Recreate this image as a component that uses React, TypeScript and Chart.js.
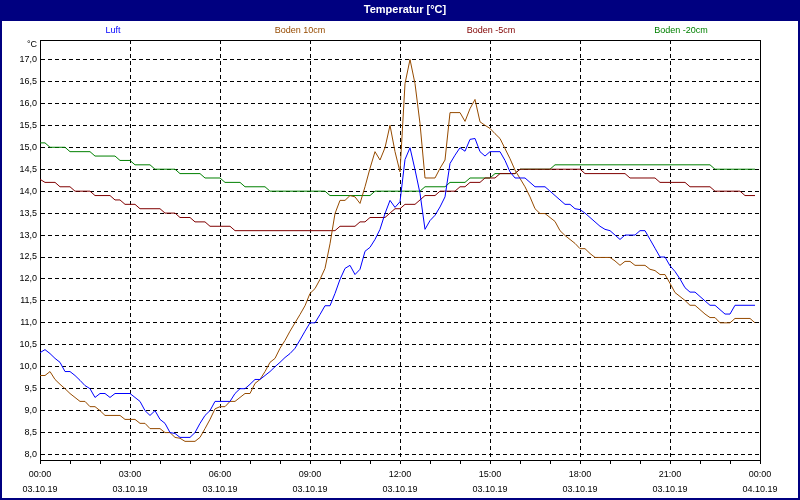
import React, { useEffect, useRef } from "react";
import { Chart, registerables } from "chart.js";

Chart.register(...registerables);

const SAMPLE_MINUTES = 10;

const SERIES_NAMES = ["Luft", "Boden 10cm", "Boden -5cm", "Boden -20cm"];
const SERIES_COLORS = ["#0000ff", "#964b00", "#800000", "#008000"];

const LUFT = [
  10.32, 10.39, 10.3, 10.19, 10.1, 9.89, 9.89, 9.8, 9.69, 9.57, 9.5, 9.3,
  9.39, 9.39, 9.3, 9.39, 9.39, 9.39, 9.39, 9.3, 9.21, 9.0, 8.89, 9.0,
  8.8, 8.71, 8.5, 8.48, 8.39, 8.39, 8.39, 8.5, 8.71, 8.89, 9.0, 9.21,
  9.21, 9.21, 9.21, 9.39, 9.5, 9.5, 9.6, 9.71, 9.71, 9.8, 9.89, 10.0,
  10.1, 10.21, 10.3, 10.42, 10.61, 10.81, 11.0, 11.0, 11.19, 11.39, 11.39, 11.67,
  11.99, 12.24, 12.31, 12.1, 12.22, 12.63, 12.72, 12.9, 13.13, 13.49, 13.79, 13.63,
  13.76, 14.72, 14.99, 14.49, 13.95, 13.13, 13.33, 13.45, 13.64, 13.87, 14.63, 14.82,
  14.99, 14.91, 15.18, 15.2, 14.9, 14.8, 14.9, 14.9, 14.9, 14.7, 14.44, 14.3,
  14.3, 14.3, 14.2, 14.1, 14.1, 14.1, 14.0, 13.9, 13.8, 13.7, 13.7, 13.6,
  13.58, 13.5, 13.4, 13.3, 13.2, 13.13, 13.1, 13.0, 12.9, 13.0, 13.0, 13.0,
  13.1, 13.1, 12.9, 12.7, 12.5, 12.5, 12.3, 12.17, 12.0, 11.8, 11.7, 11.7,
  11.6, 11.5, 11.4, 11.4, 11.3, 11.2, 11.2, 11.4, 11.4, 11.4, 11.4, 11.4,
];

const BODEN_10 = [
  9.8, 9.8, 9.89, 9.71, 9.6, 9.5, 9.39, 9.3, 9.21, 9.21, 9.09, 9.09,
  9.0, 8.89, 8.89, 8.89, 8.89, 8.8, 8.8, 8.8, 8.71, 8.71, 8.59, 8.59,
  8.59, 8.5, 8.5, 8.39, 8.37, 8.3, 8.3, 8.3, 8.39, 8.59, 8.8, 9.04,
  9.09, 9.09, 9.21, 9.21, 9.3, 9.39, 9.39, 9.62, 9.71, 9.89, 10.1, 10.19,
  10.42, 10.6, 10.81, 11.0, 11.19, 11.39, 11.67, 11.78, 11.99, 12.24, 12.8, 13.49,
  13.79, 13.79, 13.9, 13.87, 13.72, 14.1, 14.52, 14.9, 14.71, 14.99, 15.5, 14.9,
  14.44, 16.45, 17.0, 16.45, 15.54, 14.3, 14.3, 14.3, 14.52, 14.71, 15.79, 15.79,
  15.79, 15.59, 15.88, 16.09, 15.58, 15.5, 15.43, 15.31, 15.2, 14.97, 14.74, 14.48,
  14.29, 14.1, 13.87, 13.6, 13.49, 13.49, 13.4, 13.31, 13.1, 12.99, 12.9, 12.81,
  12.69, 12.69, 12.58, 12.49, 12.49, 12.49, 12.49, 12.41, 12.31, 12.4, 12.4, 12.31,
  12.31, 12.31, 12.22, 12.19, 12.1, 12.1, 11.9, 11.69, 11.6, 11.51, 11.4, 11.4,
  11.3, 11.2, 11.12, 11.12, 11.0, 11.0, 11.0, 11.1, 11.1, 11.1, 11.1, 11.0,
];

const BODEN_M5 = [
  14.27, 14.2, 14.2, 14.2, 14.1, 14.1, 14.1, 14.0, 14.0, 14.0, 14.0, 13.9,
  13.9, 13.9, 13.9, 13.8, 13.8, 13.7, 13.7, 13.7, 13.6, 13.6, 13.6, 13.6,
  13.6, 13.5, 13.5, 13.5, 13.4, 13.4, 13.4, 13.3, 13.3, 13.3, 13.2, 13.2,
  13.2, 13.2, 13.2, 13.1, 13.1, 13.1, 13.1, 13.1, 13.1, 13.1, 13.1, 13.1,
  13.1, 13.1, 13.1, 13.1, 13.1, 13.1, 13.1, 13.1, 13.1, 13.1, 13.1, 13.1,
  13.2, 13.2, 13.2, 13.2, 13.3, 13.3, 13.4, 13.4, 13.4, 13.4, 13.5, 13.6,
  13.6, 13.7, 13.7, 13.7, 13.8, 13.9, 13.9, 13.9, 14.0, 14.0, 14.0, 14.0,
  14.1, 14.1, 14.2, 14.2, 14.2, 14.3, 14.3, 14.3, 14.4, 14.4, 14.4, 14.4,
  14.5, 14.5, 14.5, 14.5, 14.5, 14.5, 14.5, 14.5, 14.5, 14.5, 14.5, 14.5,
  14.5, 14.4, 14.4, 14.4, 14.4, 14.4, 14.4, 14.4, 14.4, 14.4, 14.3, 14.3,
  14.3, 14.3, 14.3, 14.3, 14.2, 14.2, 14.2, 14.2, 14.2, 14.2, 14.1, 14.1,
  14.1, 14.1, 14.1, 14.0, 14.0, 14.0, 14.0, 14.0, 14.0, 13.9, 13.9, 13.9,
];

const BODEN_M20 = [
  15.1, 15.1, 15.0, 15.0, 15.0, 15.0, 14.9, 14.9, 14.9, 14.9, 14.9, 14.8,
  14.8, 14.8, 14.8, 14.8, 14.7, 14.7, 14.7, 14.6, 14.6, 14.6, 14.6, 14.5,
  14.5, 14.5, 14.5, 14.5, 14.4, 14.4, 14.4, 14.4, 14.4, 14.3, 14.3, 14.3,
  14.3, 14.2, 14.2, 14.2, 14.2, 14.1, 14.1, 14.1, 14.1, 14.1, 14.0, 14.0,
  14.0, 14.0, 14.0, 14.0, 14.0, 14.0, 14.0, 14.0, 14.0, 14.0, 13.9, 13.9,
  13.9, 13.9, 13.9, 13.9, 13.9, 13.9, 13.9, 14.0, 14.0, 14.0, 14.0, 14.0,
  14.0, 14.0, 14.0, 14.0, 14.0, 14.1, 14.1, 14.1, 14.1, 14.1, 14.2, 14.2,
  14.2, 14.2, 14.3, 14.3, 14.3, 14.3, 14.3, 14.4, 14.4, 14.4, 14.4, 14.4,
  14.5, 14.5, 14.5, 14.5, 14.5, 14.5, 14.5, 14.6, 14.6, 14.6, 14.6, 14.6,
  14.6, 14.6, 14.6, 14.6, 14.6, 14.6, 14.6, 14.6, 14.6, 14.6, 14.6, 14.6,
  14.6, 14.6, 14.6, 14.6, 14.6, 14.6, 14.6, 14.6, 14.6, 14.6, 14.6, 14.6,
  14.6, 14.6, 14.6, 14.5, 14.5, 14.5, 14.5, 14.5, 14.5, 14.5, 14.5, 14.5,
];

const Y_TICKS = [8.0, 8.5, 9.0, 9.5, 10.0, 10.5, 11.0, 11.5, 12.0, 12.5, 13.0, 13.5, 14.0, 14.5, 15.0, 15.5, 16.0, 16.5, 17.0];
const X_TICK_HOURS = [0, 1, 2, 3, 4, 5, 6, 7, 8, 9, 10, 11, 12, 13, 14, 15, 16, 17, 18, 19, 20, 21, 22, 23, 24];
const X_MAJOR_HOURS = [0, 3, 6, 9, 12, 15, 18, 21, 24];
const X_TIME_LABELS = ["00:00", "03:00", "06:00", "09:00", "12:00", "15:00", "18:00", "21:00", "00:00"];
const X_DATE_LABELS = ["03.10.19", "03.10.19", "03.10.19", "03.10.19", "03.10.19", "03.10.19", "03.10.19", "03.10.19", "04.10.19"];

const TITLE = "Temperatur [°C]";
const UNIT = "°C";

const FONT = "'Liberation Sans', Arial, sans-serif";
const NAVY = "#000080";

const toPoints = (arr: number[]) => arr.map((y, i) => ({ x: (i * SAMPLE_MINUTES) / 60, y }));

const decorations = {
  id: "decorations",
  beforeDraw(chart: any) {
    const { ctx } = chart;
    ctx.save();
    ctx.fillStyle = "#ffffff";
    ctx.fillRect(0, 0, 800, 500);
    ctx.fillStyle = NAVY;
    ctx.fillRect(0, 0, 800, 21);
    ctx.fillRect(0, 0, 2, 500);
    ctx.fillRect(798, 0, 2, 500);
    ctx.fillRect(0, 498, 800, 2);
    ctx.fillStyle = "#ffffff";
    ctx.font = `bold 11px ${FONT}`;
    ctx.textAlign = "center";
    ctx.textBaseline = "middle";
    ctx.fillText(TITLE, 405, 10);
    ctx.font = `9px ${FONT}`;
    const centers = [113, 300, 491, 681];
    SERIES_NAMES.forEach((n, i) => {
      ctx.fillStyle = SERIES_COLORS[i];
      ctx.fillText(n, centers[i], 31);
    });
    ctx.fillStyle = "#000";
    ctx.textAlign = "right";
    ctx.fillText(UNIT, 37, 45);
    ctx.restore();
  },
  afterDraw(chart: any) {
    const { ctx, chartArea } = chart;
    ctx.save();
    ctx.strokeStyle = "#000";
    ctx.lineWidth = 1;
    ctx.beginPath();
    ctx.moveTo(chartArea.left, chartArea.top + 0.5);
    ctx.lineTo(chartArea.right + 0.5, chartArea.top + 0.5);
    ctx.lineTo(chartArea.right + 0.5, chartArea.bottom);
    ctx.stroke();
    ctx.restore();
  },
};

export default function App() {
  const ref = useRef<HTMLCanvasElement>(null);
  useEffect(() => {
    const data = [LUFT, BODEN_10, BODEN_M5, BODEN_M20];
    const chart = new Chart(ref.current!, {
      type: "line",
      data: {
        datasets: data.map((d, i) => ({
          label: SERIES_NAMES[i],
          data: toPoints(d),
          borderColor: SERIES_COLORS[i],
          backgroundColor: SERIES_COLORS[i],
          borderWidth: 1,
          pointRadius: 0,
          tension: 0,
          fill: false,
        })),
      },
      options: {
        animation: false,
        responsive: false,
        devicePixelRatio: 1,
        layout: { padding: { top: 40, right: 40, left: 0, bottom: 0 } },
        plugins: { legend: { display: false }, title: { display: false }, tooltip: { enabled: false } },
        scales: {
          x: {
            type: "linear",
            min: 0,
            max: 24,
            afterFit: (s: any) => { s.height = 40; },
            afterBuildTicks: (s: any) => { s.ticks = X_TICK_HOURS.map((v) => ({ value: v })); },
            ticks: {
              autoSkip: false,
              maxRotation: 0,
              minRotation: 0,
              padding: 3,
              color: "#000",
              font: { family: FONT, size: 9, lineHeight: "15px" } as any,
              callback: (v: any) => {
                const k = X_MAJOR_HOURS.indexOf(Number(v));
                return k >= 0 ? [X_TIME_LABELS[k], X_DATE_LABELS[k]] : "";
              },
            },
            grid: {
              color: (c: any) => (c.tick && X_MAJOR_HOURS.includes(c.tick.value) ? "#000" : "rgba(0,0,0,0)"),
              lineWidth: 1,
              drawTicks: true,
              tickLength: 4,
              tickColor: "#000",
              tickWidth: 1,
            } as any,
            border: { display: true, color: "#000", width: 1, dash: [4, 3] },
          },
          y: {
            type: "linear",
            min: 7.875,
            max: 17.444,
            afterFit: (s: any) => { s.width = 40; },
            afterBuildTicks: (s: any) => { s.ticks = Y_TICKS.map((v) => ({ value: v })); },
            ticks: {
              padding: 3,
              color: "#000",
              font: { family: FONT, size: 9 },
              callback: (v: any) => Number(v).toFixed(1).replace(".", ","),
            },
            grid: { color: "#000", lineWidth: 1, drawTicks: false },
            border: { display: true, color: "#000", width: 1, dash: [4, 3] },
          },
        },
      },
      plugins: [decorations],
    } as any);
    return () => chart.destroy();
  }, []);
  return (
    <div style={{ position: "absolute", left: 0, top: 0, width: 800, height: 500 }}>
      <canvas ref={ref} width={800} height={500} style={{ display: "block", width: 800, height: 500 }} />
    </div>
  );
}
